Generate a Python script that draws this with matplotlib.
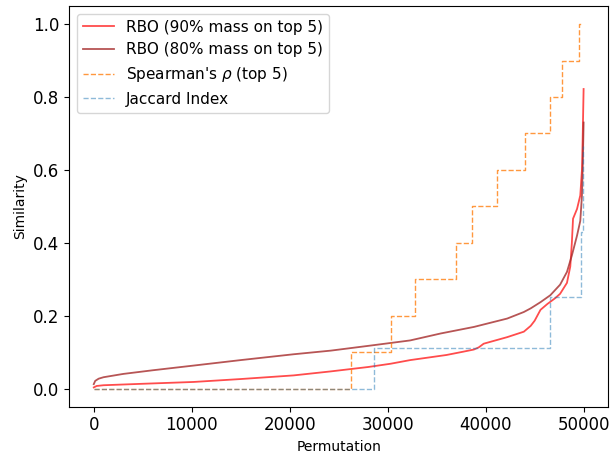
# similarity of each permutation against the reference ranking, sorted low to high
# RBO curves are sorted scores, Spearman and Jaccard are step functions of the overlap

import matplotlib
matplotlib.use("Agg")
import matplotlib.pyplot as plt

# RBO with 90% of the weight on the top 5
rbo90_x = [0, 300, 1000, 5000, 10200, 15000, 20400, 24200, 28000, 30300, 32300,
           36000, 37700, 38800, 39300, 39800, 42200, 43900, 44600, 45000, 45600,
           46300, 47100, 47600, 48300, 48640, 48800, 48920, 49330, 49660, 49830,
           49900, 49999]
rbo90_y = [0.003, 0.007, 0.009, 0.013, 0.018, 0.026, 0.036, 0.047, 0.059, 0.068, 0.078,
           0.092, 0.101, 0.107, 0.113, 0.123, 0.141, 0.156, 0.172, 0.186, 0.216,
           0.232, 0.248, 0.260, 0.290, 0.335, 0.400, 0.466, 0.493, 0.530, 0.600,
           0.680, 0.822]

# RBO with 80% of the weight on the top 5
rbo80_x = [0, 150, 500, 1000, 3000, 6000, 10200, 15000, 20400, 24200, 28000, 30300,
           32300, 35400, 38800, 42200, 43900, 44600, 45600, 46600, 47600, 48300,
           48800, 49330, 49660, 49830, 49920, 49999]
rbo80_y = [0.012, 0.021, 0.027, 0.031, 0.040, 0.050, 0.063, 0.078, 0.094, 0.104, 0.117, 0.125,
           0.132, 0.151, 0.169, 0.192, 0.210, 0.220, 0.237, 0.256, 0.285, 0.320,
           0.365, 0.420, 0.460, 0.530, 0.620, 0.730]

# Spearman's rho on the top 5, one step per 0.1
spearman_x = [0, 26280, 30360, 32840, 37020, 38650, 41170, 43980, 46530, 47830, 49560, 49870]
spearman_y = [0.0, 0.1, 0.2, 0.3, 0.4, 0.5, 0.6, 0.7, 0.8, 0.9, 1.0, 1.0]

# Jaccard index of the top-5 sets: k / (10 - k)
jaccard_x = [0, 28590, 46530, 49740, 49920, 49960]
jaccard_y = [0.0, 1 / 9, 0.25, 3 / 7, 2 / 3, 2 / 3]

fig, ax = plt.subplots(figsize=(6.13, 4.57), dpi=100)

ax.plot(rbo90_x, rbo90_y, color="red", alpha=0.7, lw=1.3, label="RBO (90% mass on top 5)")
ax.plot(rbo80_x, rbo80_y, color="brown", alpha=0.8, lw=1.3, label="RBO (80% mass on top 5)")
ax.plot(spearman_x, spearman_y, color="tab:orange", alpha=0.8, lw=1.0, ls="--",
        drawstyle="steps-post", label=r"Spearman's $\rho$ (top 5)")
ax.plot(jaccard_x, jaccard_y, color="tab:blue", alpha=0.5, lw=1.0, ls="--",
        drawstyle="steps-post", label="Jaccard Index")

ax.set_xlabel("Permutation", fontsize=10)
ax.set_ylabel("Similarity", fontsize=10)
ax.tick_params(axis="both", labelsize=12)
ax.set_xticks([0, 10000, 20000, 30000, 40000, 50000])
ax.set_yticks([0.0, 0.2, 0.4, 0.6, 0.8, 1.0])
ax.legend(loc="upper left", fontsize=11)

fig.subplots_adjust(left=0.113, right=0.992, top=0.987, bottom=0.110)
fig.savefig("out.png", dpi=100)
